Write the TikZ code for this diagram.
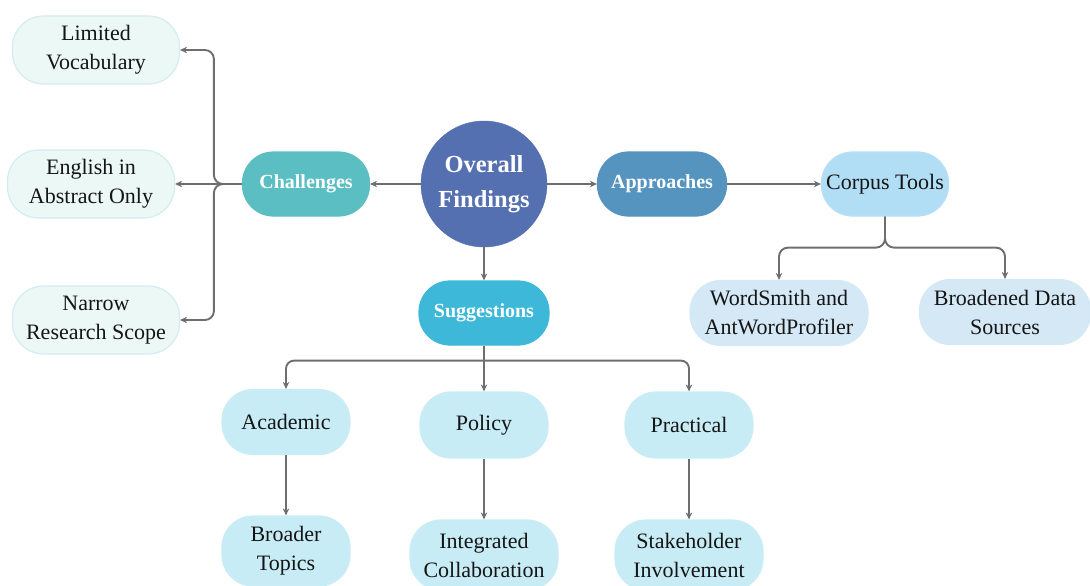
\documentclass[tikz,border=0pt]{standalone}
\usepackage{fontspec}
\setmainfont{Liberation Serif}
\usetikzlibrary{arrows.meta,calc}
\definecolor{ovc}{HTML}{5470B0}
\definecolor{chc}{HTML}{5BBEC2}
\definecolor{apc}{HTML}{5494BE}
\definecolor{sgc}{HTML}{3DB8D8}
\definecolor{ctc}{HTML}{B2DEF5}
\definecolor{wsc}{HTML}{D4E8F6}
\definecolor{suc}{HTML}{C8ECF6}
\definecolor{lfc}{HTML}{ECF8F6}
\definecolor{lfb}{HTML}{D3ECF0}
\definecolor{linec}{HTML}{6E6E6E}
\definecolor{txt}{HTML}{151515}
\begin{document}
\begin{tikzpicture}[x=1pt,y=-1pt,
  pill/.style={rectangle, rounded corners=31pt, inner sep=0pt, align=center,
    minimum height=64pt, line width=1.2pt},
  mainbox/.style={pill, fill=#1, draw=#1, text=white,
    font=\fontsize{20}{24}\bfseries\selectfont, minimum width=127pt},
  leaf/.style={pill, fill=#1, draw=#1!85!lfb, text=txt,
    font=\fontsize{22}{29}\selectfont},
  arr/.style={draw=linec, line width=1.9pt, -{Stealth[length=7pt,width=6.5pt]}}
]
\useasboundingbox (0,0) rectangle (1090,586);
\clip (0,0) rectangle (1090,586);

% central
\node[circle, fill=ovc, draw=ovc, minimum size=126pt, inner sep=0pt, text=white, align=center,
  font=\fontsize{24.5}{35}\bfseries\selectfont] (ov) at (484,184) {Overall\\Findings};

\node[mainbox=chc] (ch) at (306,184) {Challenges};
\node[mainbox=apc, minimum width=129pt] (ap) at (662,184) {Approaches};
\node[mainbox=sgc, minimum width=130pt] (sg) at (484,313) {Suggestions};

% left leaves
\node[leaf=lfc, draw=lfb, minimum width=167pt, minimum height=68pt] (lv) at (96,50) {Limited\\Vocabulary};
\node[leaf=lfc, draw=lfb, minimum width=167pt, minimum height=68pt] (ea) at (91,184) {English in\\Abstract Only};
\node[leaf=lfc, draw=lfb, minimum width=167pt, minimum height=68pt] (nr) at (96,320) {Narrow\\Research Scope};

% approaches branch
\node[leaf=ctc, minimum width=127pt] (ct) at (885,184) {Corpus Tools};
\node[leaf=wsc, minimum width=178pt, minimum height=65pt] (ws) at (779,313) {WordSmith and\\AntWordProfiler};
\node[leaf=wsc, minimum width=171pt, minimum height=65pt] (bd) at (1005,312) {Broadened Data\\Sources};

% suggestions branch
\node[leaf=suc, minimum width=128pt, minimum height=65pt] (ac) at (286,422) {Academic};
\node[leaf=suc, minimum width=128pt, minimum height=66pt] (po) at (484,425) {Policy};
\node[leaf=suc, minimum width=128pt, minimum height=66pt] (pr) at (689,425) {Practical};
\node[leaf=suc, minimum width=128pt, minimum height=70pt] (bt) at (286,551) {Broader\\Topics};
\node[leaf=suc, minimum width=148pt, minimum height=70pt] (ic) at (484,555) {Integrated\\Collaboration};
\node[leaf=suc, minimum width=148pt, minimum height=70pt] (sh) at (689,555) {Stakeholder\\Involvement};

% connectors
\draw[arr] (ov.west) -- (ch.east);
\draw[arr] (ov.east) -- (ap.west);
\draw[arr] (ap.east) -- (ct.west);
\draw[arr] (ov.south) -- (sg.north);

\coordinate (cj) at ($(ch.west)+(-28,0)$);
\draw[arr, rounded corners=9pt] (ch.west) -- (cj) |- (lv.east);
\draw[arr, rounded corners=9pt] (ch.west) -- (cj) |- (nr.east);
\draw[arr] (ch.west) -- (ea.east);

\coordinate (tj) at ($(ct.south)+(0,31)$);
\draw[arr, rounded corners=9pt] (ct.south) -- (tj) -| (ws.north);
\draw[arr, rounded corners=9pt] (ct.south) -- (tj) -| (bd.north);

\coordinate (sj) at ($(sg.south)+(0,15)$);
\draw[arr] (sg.south) -- (po.north);
\draw[arr, rounded corners=8pt] (sj) -| (ac.north);
\draw[arr, rounded corners=8pt] (sj) -| (pr.north);

\draw[arr] (ac.south) -- (bt.north);
\draw[arr] (po.south) -- (ic.north);
\draw[arr] (pr.south) -- (sh.north);
\end{tikzpicture}
\end{document}
